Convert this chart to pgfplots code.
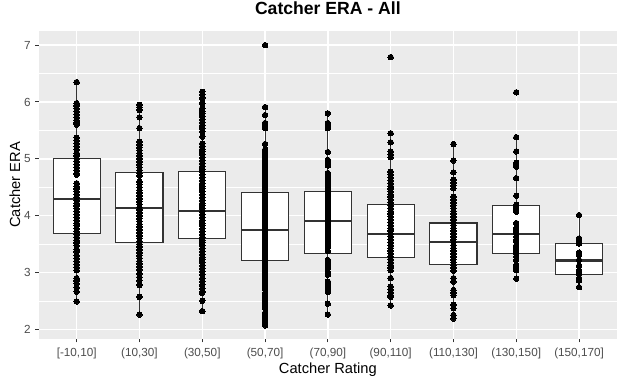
\documentclass[border=0pt]{standalone}
\usepackage{pgfplots}
\pgfplotsset{compat=1.18}
\usepgfplotslibrary{statistics}
\usepackage{fontspec}
\setmainfont{Liberation Sans}
\definecolor{bgc}{HTML}{EBEBEB}
\definecolor{boxc}{HTML}{333333}
\definecolor{tickc}{HTML}{4D4D4D}
\pgfplotsset{pts/.style={only marks, mark=*, mark size=2.05pt, black, mark options={fill=black, draw=black, line width=0pt}}}
\begin{document}
\begin{tikzpicture}
\useasboundingbox (-29.25pt,-34.7pt) rectangle (439.5pt,254pt);
\begin{axis}[
  at={(0,0)}, anchor=south west,
  scale only axis, width=433.3pt, height=230.8pt,
  xmin=0.4, xmax=9.6, ymin=1.835, ymax=7.25,
  xtick={1,...,9},
  xticklabels={{[-10,10]},{(10,30]},{(30,50]},{(50,70]},{(70,90]},{(90,110]},{(110,130]},{(130,150]},{(150,170]}},
  ytick={2,3,4,5,6,7},
  minor ytick={2.5,3.5,4.5,5.5,6.5},
  minor tick length=0pt,
  major tick length=2.7pt,
  tick align=outside,
  xtick pos=bottom, ytick pos=left,
  tick style={color=boxc, line width=0.75pt},
  axis line style={draw=none},
  axis background/.style={fill=bgc},
  grid=both,
  major grid style={white, line width=1.1pt},
  minor grid style={white, line width=0.55pt},
  ticklabel style={font=\fontsize{8.8}{10}\selectfont, text=tickc},
  /pgf/number format/assume math mode=true,
  xticklabel style={yshift=-1pt},
  xlabel={Catcher Rating},
  ylabel={Catcher ERA},
  xlabel style={font=\fontsize{11}{13}\selectfont, at={(axis description cs:0.5,-0.1018)}, anchor=center},
  ylabel style={font=\fontsize{11}{13}\selectfont, at={(axis description cs:-0.0416,0.5)}, anchor=center},
  title={Catcher ERA - All},
  title style={font=\bfseries\fontsize{13.2}{15}\selectfont, at={(axis description cs:0.5,1.028)}, anchor=base},
  boxplot/draw direction=y,
  boxplot/every box/.style={draw=boxc, fill=white, line width=0.8pt},
  boxplot/every whisker/.style={draw=boxc, line width=0.8pt},
  boxplot/every median/.style={draw=boxc, line width=1.6pt},
  boxplot/box extend=0.75,
  boxplot/whisker extend=0,
]
\addplot[boxplot prepared={draw position=1, lower whisker=2.49, lower quartile=3.68, median=4.30, upper quartile=5.00, upper whisker=6.35}] coordinates {};
\addplot[boxplot prepared={draw position=2, lower whisker=2.26, lower quartile=3.53, median=4.14, upper quartile=4.76, upper whisker=5.95}] coordinates {};
\addplot[boxplot prepared={draw position=3, lower whisker=2.32, lower quartile=3.60, median=4.08, upper quartile=4.78, upper whisker=6.18}] coordinates {};
\addplot[boxplot prepared={draw position=4, lower whisker=2.07, lower quartile=3.21, median=3.75, upper quartile=4.41, upper whisker=5.91}] coordinates {};
\addplot[boxplot prepared={draw position=5, lower whisker=2.26, lower quartile=3.34, median=3.91, upper quartile=4.43, upper whisker=5.80}] coordinates {};
\addplot[boxplot prepared={draw position=6, lower whisker=2.42, lower quartile=3.27, median=3.68, upper quartile=4.20, upper whisker=5.45}] coordinates {};
\addplot[boxplot prepared={draw position=7, lower whisker=2.19, lower quartile=3.14, median=3.54, upper quartile=3.87, upper whisker=5.26}] coordinates {};
\addplot[boxplot prepared={draw position=8, lower whisker=2.89, lower quartile=3.34, median=3.68, upper quartile=4.18, upper whisker=5.38}] coordinates {};
\addplot[boxplot prepared={draw position=9, lower whisker=2.74, lower quartile=2.97, median=3.21, upper quartile=3.51, upper whisker=4.01}] coordinates {};
% [-10,10]
\addplot[pts] coordinates {(1,6.35)(1,5.98)(1,5.93)(1,5.88)(1,5.83)(1,5.78)(1,5.73)(1,5.68)(1,5.63)(1,5.60)(1,5.37)(1,5.32)(1,5.27)(1,5.22)(1,5.16)(1,5.10)(1,5.05)(1,5.00)(1,4.95)(1,4.90)(1,4.85)(1,4.80)(1,4.75)(1,4.72)(1,4.57)(1,4.52)(1,4.47)(1,4.42)(1,4.37)(1,4.32)(1,4.27)(1,4.22)(1,4.17)(1,4.12)(1,4.07)(1,4.02)(1,3.97)(1,3.92)(1,3.87)(1,3.82)(1,3.77)(1,3.72)(1,3.67)(1,3.62)(1,3.57)(1,3.52)(1,3.47)(1,3.41)(1,3.36)(1,3.30)(1,3.25)(1,3.19)(1,3.14)(1,3.09)(1,3.04)(1,2.90)(1,2.85)(1,2.80)(1,2.73)(1,2.66)(1,2.49)};
% (10,30]
\addplot[pts] coordinates {(2,5.95)(2,5.91)(2,5.86)(2,5.73)(2,5.54)(2,5.30)(2,5.25)(2,5.20)(2,5.15)(2,5.10)(2,5.05)(2,5.00)(2,4.95)(2,4.90)(2,4.85)(2,4.80)(2,4.75)(2,4.70)(2,4.60)(2,4.55)(2,4.50)(2,4.45)(2,4.40)(2,4.35)(2,4.30)(2,4.25)(2,4.20)(2,4.15)(2,4.10)(2,4.05)(2,4.00)(2,3.95)(2,3.90)(2,3.85)(2,3.80)(2,3.75)(2,3.70)(2,3.65)(2,3.60)(2,3.55)(2,3.50)(2,3.45)(2,3.40)(2,3.35)(2,3.30)(2,3.25)(2,3.20)(2,3.15)(2,3.10)(2,3.05)(2,2.98)(2,2.92)(2,2.86)(2,2.78)(2,2.57)(2,2.26)};
% (30,50]
\addplot[pts] coordinates {(3,6.18)(3,6.13)(3,6.07)(3,5.98)(3,5.89)(3,5.84)(3,5.79)(3,5.74)(3,5.69)(3,5.64)(3,5.59)(3,5.54)(3,5.48)(3,5.39)(3,5.27)(3,5.22)(3,5.17)(3,5.12)(3,5.07)(3,5.02)(3,4.97)(3,4.92)(3,4.87)(3,4.82)(3,4.77)(3,4.72)(3,4.67)(3,4.62)(3,4.57)(3,4.52)(3,4.47)(3,4.42)(3,4.37)(3,4.32)(3,4.27)(3,4.22)(3,4.17)(3,4.12)(3,4.07)(3,4.02)(3,3.97)(3,3.92)(3,3.87)(3,3.82)(3,3.77)(3,3.72)(3,3.67)(3,3.62)(3,3.57)(3,3.52)(3,3.47)(3,3.42)(3,3.37)(3,3.32)(3,3.27)(3,3.22)(3,3.17)(3,3.12)(3,3.07)(3,3.02)(3,2.96)(3,2.90)(3,2.84)(3,2.78)(3,2.72)(3,2.66)(3,2.64)(3,2.50)(3,2.32)};
% (50,70]
\addplot[pts] coordinates {(4,7.00)(4,5.91)(4,5.77)(4,5.63)(4,5.58)(4,5.54)(4,5.26)(4,5.16)(4,5.11)(4,5.06)(4,5.01)(4,4.96)(4,4.91)(4,4.86)(4,4.81)(4,4.76)(4,4.71)(4,4.66)(4,4.61)(4,4.56)(4,4.51)(4,4.46)(4,4.41)(4,4.36)(4,4.31)(4,4.26)(4,4.21)(4,4.16)(4,4.11)(4,4.06)(4,4.01)(4,3.96)(4,3.91)(4,3.86)(4,3.81)(4,3.76)(4,3.71)(4,3.66)(4,3.61)(4,3.56)(4,3.51)(4,3.46)(4,3.41)(4,3.36)(4,3.31)(4,3.26)(4,3.21)(4,3.16)(4,3.11)(4,3.06)(4,3.01)(4,2.96)(4,2.91)(4,2.86)(4,2.81)(4,2.76)(4,2.71)(4,2.64)(4,2.59)(4,2.54)(4,2.49)(4,2.43)(4,2.37)(4,2.29)(4,2.24)(4,2.18)(4,2.12)(4,2.07)};
% (70,90]
\addplot[pts] coordinates {(5,5.80)(5,5.63)(5,5.58)(5,5.54)(5,5.12)(5,4.98)(5,4.93)(5,4.88)(5,4.75)(5,4.70)(5,4.65)(5,4.60)(5,4.55)(5,4.50)(5,4.45)(5,4.40)(5,4.35)(5,4.30)(5,4.25)(5,4.20)(5,4.15)(5,4.10)(5,4.05)(5,4.00)(5,3.95)(5,3.90)(5,3.85)(5,3.80)(5,3.75)(5,3.70)(5,3.65)(5,3.60)(5,3.55)(5,3.50)(5,3.45)(5,3.38)(5,3.22)(5,3.17)(5,3.12)(5,3.07)(5,3.01)(5,2.96)(5,2.84)(5,2.79)(5,2.74)(5,2.70)(5,2.66)(5,2.45)(5,2.26)};
% (90,110]
\addplot[pts] coordinates {(6,6.79)(6,5.45)(6,5.29)(6,5.13)(6,5.08)(6,5.03)(6,4.77)(6,4.72)(6,4.67)(6,4.62)(6,4.57)(6,4.52)(6,4.47)(6,4.42)(6,4.37)(6,4.33)(6,4.28)(6,4.23)(6,4.18)(6,4.13)(6,4.08)(6,4.03)(6,3.98)(6,3.93)(6,3.88)(6,3.83)(6,3.78)(6,3.73)(6,3.68)(6,3.63)(6,3.58)(6,3.53)(6,3.48)(6,3.43)(6,3.38)(6,3.33)(6,3.28)(6,3.23)(6,3.18)(6,3.13)(6,3.08)(6,3.04)(6,2.90)(6,2.75)(6,2.70)(6,2.65)(6,2.60)(6,2.57)(6,2.42)};
% (110,130]
\addplot[pts] coordinates {(7,5.26)(7,4.97)(7,4.76)(7,4.63)(7,4.58)(7,4.53)(7,4.48)(7,4.33)(7,4.28)(7,4.23)(7,4.18)(7,4.13)(7,4.08)(7,4.03)(7,3.98)(7,3.93)(7,3.88)(7,3.83)(7,3.78)(7,3.73)(7,3.68)(7,3.63)(7,3.58)(7,3.53)(7,3.48)(7,3.43)(7,3.38)(7,3.33)(7,3.28)(7,3.23)(7,3.18)(7,3.13)(7,3.08)(7,3.03)(7,2.90)(7,2.84)(7,2.69)(7,2.64)(7,2.60)(7,2.43)(7,2.37)(7,2.25)(7,2.19)};
% (130,150]
\addplot[pts] coordinates {(8,6.17)(8,5.38)(8,5.13)(8,4.93)(8,4.89)(8,4.86)(8,4.66)(8,4.35)(8,4.19)(8,4.15)(8,4.11)(8,4.07)(8,3.87)(8,3.78)(8,3.73)(8,3.68)(8,3.63)(8,3.58)(8,3.54)(8,3.48)(8,3.43)(8,3.38)(8,3.33)(8,3.28)(8,3.22)(8,3.13)(8,3.08)(8,3.04)(8,2.89)};
% (150,170]
\addplot[pts] coordinates {(9,4.01)(9,3.60)(9,3.55)(9,3.51)(9,3.35)(9,3.31)(9,3.22)(9,3.12)(9,3.04)(9,2.98)(9,2.90)(9,2.86)(9,2.74)};
\end{axis}
\end{tikzpicture}
\end{document}
